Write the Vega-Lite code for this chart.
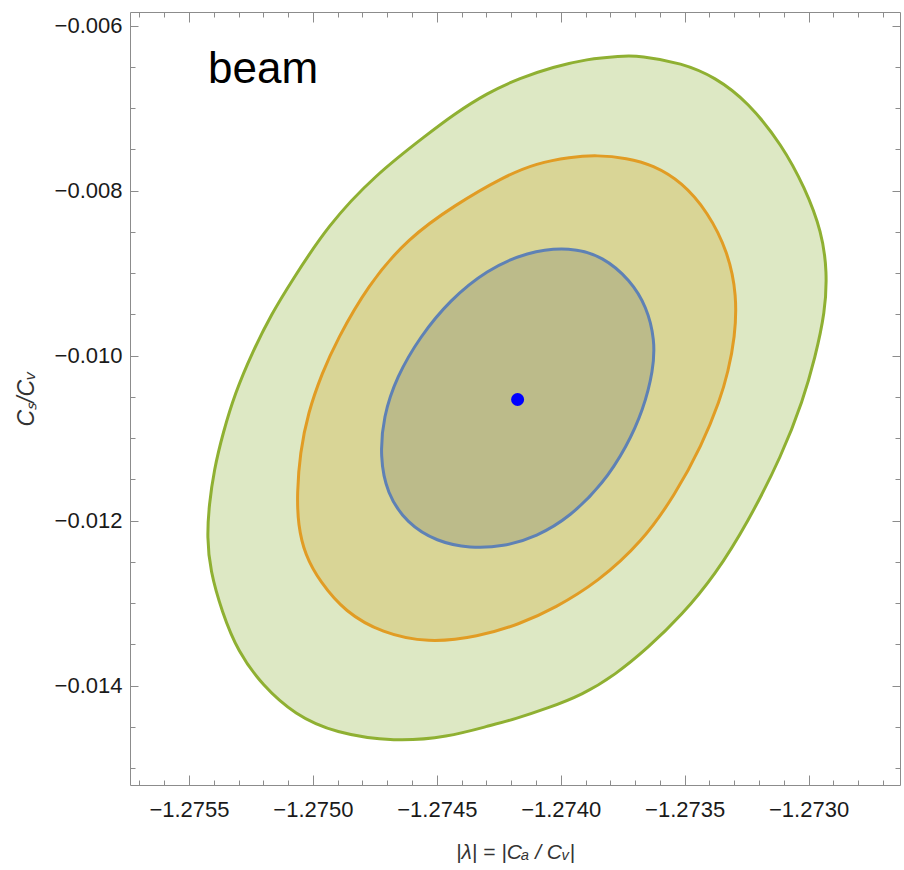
{
  "$schema": "https://vega.github.io/schema/vega-lite/v6.json",
  "width": 770,
  "height": 773,
  "autosize": {"type": "none"},
  "padding": {"left": 130, "top": 12, "right": 4, "bottom": 85},
  "background": "white",
  "config": {
    "view": {"stroke": "#8c8c8c", "strokeWidth": 1},
    "font": "Liberation Sans"
  },
  "datasets": {
    "contours": [
      {"level": "3σ", "i": 1, "x": -1.273680, "y": -0.006364},
      {"level": "3σ", "i": 2, "x": -1.273511, "y": -0.006455},
      {"level": "3σ", "i": 3, "x": -1.273377, "y": -0.006624},
      {"level": "3σ", "i": 4, "x": -1.273244, "y": -0.006927},
      {"level": "3σ", "i": 5, "x": -1.273107, "y": -0.007448},
      {"level": "3σ", "i": 6, "x": -1.273014, "y": -0.007970},
      {"level": "3σ", "i": 7, "x": -1.272946, "y": -0.008503},
      {"level": "3σ", "i": 8, "x": -1.272925, "y": -0.008988},
      {"level": "3σ", "i": 9, "x": -1.272933, "y": -0.009473},
      {"level": "3σ", "i": 10, "x": -1.272974, "y": -0.010030},
      {"level": "3σ", "i": 11, "x": -1.273022, "y": -0.010539},
      {"level": "3σ", "i": 12, "x": -1.273107, "y": -0.011206},
      {"level": "3σ", "i": 13, "x": -1.273244, "y": -0.012018},
      {"level": "3σ", "i": 14, "x": -1.273377, "y": -0.012661},
      {"level": "3σ", "i": 15, "x": -1.273511, "y": -0.013145},
      {"level": "3σ", "i": 16, "x": -1.273648, "y": -0.013545},
      {"level": "3σ", "i": 17, "x": -1.273781, "y": -0.013873},
      {"level": "3σ", "i": 18, "x": -1.273914, "y": -0.014115},
      {"level": "3σ", "i": 19, "x": -1.274051, "y": -0.014273},
      {"level": "3σ", "i": 20, "x": -1.274184, "y": -0.014406},
      {"level": "3σ", "i": 21, "x": -1.274293, "y": -0.014491},
      {"level": "3σ", "i": 22, "x": -1.274455, "y": -0.014624},
      {"level": "3σ", "i": 23, "x": -1.274669, "y": -0.014685},
      {"level": "3σ", "i": 24, "x": -1.274911, "y": -0.014576},
      {"level": "3σ", "i": 25, "x": -1.275072, "y": -0.014357},
      {"level": "3σ", "i": 26, "x": -1.275205, "y": -0.013994},
      {"level": "3σ", "i": 27, "x": -1.275302, "y": -0.013594},
      {"level": "3σ", "i": 28, "x": -1.275367, "y": -0.013109},
      {"level": "3σ", "i": 29, "x": -1.275415, "y": -0.012600},
      {"level": "3σ", "i": 30, "x": -1.275427, "y": -0.012200},
      {"level": "3σ", "i": 31, "x": -1.275419, "y": -0.011812},
      {"level": "3σ", "i": 32, "x": -1.275399, "y": -0.011388},
      {"level": "3σ", "i": 33, "x": -1.275363, "y": -0.010939},
      {"level": "3σ", "i": 34, "x": -1.275314, "y": -0.010455},
      {"level": "3σ", "i": 35, "x": -1.275246, "y": -0.009970},
      {"level": "3σ", "i": 36, "x": -1.275165, "y": -0.009485},
      {"level": "3σ", "i": 37, "x": -1.275088, "y": -0.009109},
      {"level": "3σ", "i": 38, "x": -1.274939, "y": -0.008418},
      {"level": "3σ", "i": 39, "x": -1.274749, "y": -0.007812},
      {"level": "3σ", "i": 40, "x": -1.274536, "y": -0.007315},
      {"level": "3σ", "i": 41, "x": -1.274435, "y": -0.007085},
      {"level": "3σ", "i": 42, "x": -1.274297, "y": -0.006818},
      {"level": "3σ", "i": 43, "x": -1.274164, "y": -0.006636},
      {"level": "3σ", "i": 44, "x": -1.274031, "y": -0.006503},
      {"level": "3σ", "i": 45, "x": -1.273894, "y": -0.006406},
      {"level": "3σ", "i": 46, "x": -1.273761, "y": -0.006370},
      {"level": "2σ", "i": 1, "x": -1.273854, "y": -0.007570},
      {"level": "2σ", "i": 2, "x": -1.273733, "y": -0.007606},
      {"level": "2σ", "i": 3, "x": -1.273628, "y": -0.007691},
      {"level": "2σ", "i": 4, "x": -1.273511, "y": -0.007897},
      {"level": "2σ", "i": 5, "x": -1.273406, "y": -0.008261},
      {"level": "2σ", "i": 6, "x": -1.273325, "y": -0.008745},
      {"level": "2σ", "i": 7, "x": -1.273289, "y": -0.009267},
      {"level": "2σ", "i": 8, "x": -1.273297, "y": -0.009788},
      {"level": "2σ", "i": 9, "x": -1.273325, "y": -0.010200},
      {"level": "2σ", "i": 10, "x": -1.273357, "y": -0.010539},
      {"level": "2σ", "i": 11, "x": -1.273430, "y": -0.011085},
      {"level": "2σ", "i": 12, "x": -1.273539, "y": -0.011691},
      {"level": "2σ", "i": 13, "x": -1.273672, "y": -0.012261},
      {"level": "2σ", "i": 14, "x": -1.273850, "y": -0.012745},
      {"level": "2σ", "i": 15, "x": -1.274023, "y": -0.013061},
      {"level": "2σ", "i": 16, "x": -1.274164, "y": -0.013254},
      {"level": "2σ", "i": 17, "x": -1.274334, "y": -0.013412},
      {"level": "2σ", "i": 18, "x": -1.274536, "y": -0.013485},
      {"level": "2σ", "i": 19, "x": -1.274721, "y": -0.013364},
      {"level": "2σ", "i": 20, "x": -1.274870, "y": -0.013109},
      {"level": "2σ", "i": 21, "x": -1.274971, "y": -0.012745},
      {"level": "2σ", "i": 22, "x": -1.275032, "y": -0.012418},
      {"level": "2σ", "i": 23, "x": -1.275060, "y": -0.012055},
      {"level": "2σ", "i": 24, "x": -1.275064, "y": -0.011667},
      {"level": "2σ", "i": 25, "x": -1.275052, "y": -0.011182},
      {"level": "2σ", "i": 26, "x": -1.275020, "y": -0.010697},
      {"level": "2σ", "i": 27, "x": -1.274963, "y": -0.010212},
      {"level": "2σ", "i": 28, "x": -1.274903, "y": -0.009812},
      {"level": "2σ", "i": 29, "x": -1.274778, "y": -0.009145},
      {"level": "2σ", "i": 30, "x": -1.274616, "y": -0.008576},
      {"level": "2σ", "i": 31, "x": -1.274427, "y": -0.008176},
      {"level": "2σ", "i": 32, "x": -1.274233, "y": -0.007836},
      {"level": "2σ", "i": 33, "x": -1.274096, "y": -0.007667},
      {"level": "2σ", "i": 34, "x": -1.273962, "y": -0.007594},
      {"level": "1σ", "i": 1, "x": -1.273962, "y": -0.008681},
      {"level": "1σ", "i": 2, "x": -1.273828, "y": -0.008802},
      {"level": "1σ", "i": 3, "x": -1.273720, "y": -0.009085},
      {"level": "1σ", "i": 4, "x": -1.273653, "y": -0.009408},
      {"level": "1σ", "i": 5, "x": -1.273620, "y": -0.009812},
      {"level": "1σ", "i": 6, "x": -1.273626, "y": -0.010176},
      {"level": "1σ", "i": 7, "x": -1.273667, "y": -0.010661},
      {"level": "1σ", "i": 8, "x": -1.273734, "y": -0.011105},
      {"level": "1σ", "i": 9, "x": -1.273828, "y": -0.011549},
      {"level": "1σ", "i": 10, "x": -1.273962, "y": -0.011954},
      {"level": "1σ", "i": 11, "x": -1.274097, "y": -0.012196},
      {"level": "1σ", "i": 12, "x": -1.274232, "y": -0.012318},
      {"level": "1σ", "i": 13, "x": -1.274366, "y": -0.012337},
      {"level": "1σ", "i": 14, "x": -1.274500, "y": -0.012257},
      {"level": "1σ", "i": 15, "x": -1.274621, "y": -0.012034},
      {"level": "1σ", "i": 16, "x": -1.274702, "y": -0.011670},
      {"level": "1σ", "i": 17, "x": -1.274729, "y": -0.011227},
      {"level": "1σ", "i": 18, "x": -1.274716, "y": -0.010742},
      {"level": "1σ", "i": 19, "x": -1.274662, "y": -0.010257},
      {"level": "1σ", "i": 20, "x": -1.274568, "y": -0.009772},
      {"level": "1σ", "i": 21, "x": -1.274447, "y": -0.009327},
      {"level": "1σ", "i": 22, "x": -1.274299, "y": -0.008964},
      {"level": "1σ", "i": 23, "x": -1.274137, "y": -0.008742}
    ],
    "center": [{"x": -1.274174, "y": -0.010533}],
    "labels": [{"text": "beam", "x": -1.275423, "y": -0.006697}]
  },
  "layer": [
    {
      "data": {"name": "contours"},
      "transform": [{"filter": "datum.level === '3σ'"}],
      "mark": {"type": "line", "interpolate": "basis-closed", "fill": "#dde8c4", "stroke": "#8fb032", "strokeWidth": 3},
      "encoding": {
        "order": {"field": "i", "type": "quantitative"},
        "x": {
          "field": "x", "type": "quantitative",
          "scale": {"domain": [-1.275738, -1.272631], "nice": false, "zero": false},
          "axis": {
            "orient": "bottom",
            "values": [-1.2757,-1.2756,-1.2755,-1.2754,-1.2753,-1.2752,-1.2751,-1.275,-1.2749,-1.2748,-1.2747,-1.2746,-1.2745,-1.2744,-1.2743,-1.2742,-1.2741,-1.274,-1.2739,-1.2738,-1.2737,-1.2736,-1.2735,-1.2734,-1.2733,-1.2732,-1.2731,-1.273,-1.2729,-1.2728,-1.2727],
            "format": ".4f",
            "labelExpr": "round(datum.value*10000) % 5 == 0 ? datum.label : ''",
            "tickSize": {"condition": {"test": "round(datum.value*10000) % 5 == 0", "value": -10}, "value": -5},
            "tickColor": "#8c8c8c",
            "domain": false,
            "grid": false,
            "labelOverlap": false,
            "labelBound": false,
            "labelFlush": false,
            "labelPadding": 24,
            "labelFont": "Liberation Sans",
            "labelFontSize": 22,
            "labelColor": "#1a1a1a",
            "title": "|λ| = |Cₐ / Cᵥ|",
            "titleFont": "Liberation Sans",
            "titleFontStyle": "italic",
            "titleFontWeight": "normal",
            "titleFontSize": 21,
            "titleColor": "#333333",
            "titlePadding": 16
          }
        },
        "y": {
          "field": "y", "type": "quantitative",
          "scale": {"domain": [-0.015206, -0.005836], "nice": false, "zero": false},
          "axis": {
            "orient": "left",
            "values": [-0.015,-0.0145,-0.014,-0.0135,-0.013,-0.0125,-0.012,-0.0115,-0.011,-0.0105,-0.01,-0.0095,-0.009,-0.0085,-0.008,-0.0075,-0.007,-0.0065,-0.006],
            "format": ".3f",
            "labelExpr": "round(datum.value*10000) % 20 == 0 ? datum.label : ''",
            "tickSize": {"condition": {"test": "round(datum.value*10000) % 20 == 0", "value": -8}, "value": -5},
            "tickColor": "#8c8c8c",
            "domain": false,
            "grid": false,
            "labelOverlap": false,
            "labelBound": false,
            "labelFlush": false,
            "labelPadding": 16,
            "labelFont": "Liberation Sans",
            "labelFontSize": 22,
            "labelColor": "#1a1a1a",
            "title": "Cₛ/Cᵥ",
            "titleFont": "Liberation Sans",
            "titleFontStyle": "italic",
            "titleFontWeight": "normal",
            "titleFontSize": 23,
            "titleColor": "#333333",
            "titlePadding": 16
          }
        }
      }
    },
    {
      "data": {"name": "contours"},
      "transform": [{"filter": "datum.level === '2σ'"}],
      "mark": {"type": "line", "interpolate": "basis-closed", "fill": "#d9d596", "stroke": "#e19c24", "strokeWidth": 3},
      "encoding": {
        "order": {"field": "i", "type": "quantitative"},
        "x": {"field": "x", "type": "quantitative", "scale": {"domain": [-1.275738, -1.272631], "nice": false, "zero": false}, "axis": null},
        "y": {"field": "y", "type": "quantitative", "scale": {"domain": [-0.015206, -0.005836], "nice": false, "zero": false}, "axis": null}
      }
    },
    {
      "data": {"name": "contours"},
      "transform": [{"filter": "datum.level === '1σ'"}],
      "mark": {"type": "line", "interpolate": "basis-closed", "fill": "#bcbb8a", "stroke": "#5e81b5", "strokeWidth": 3},
      "encoding": {
        "order": {"field": "i", "type": "quantitative"},
        "x": {"field": "x", "type": "quantitative", "scale": {"domain": [-1.275738, -1.272631], "nice": false, "zero": false}, "axis": null},
        "y": {"field": "y", "type": "quantitative", "scale": {"domain": [-0.015206, -0.005836], "nice": false, "zero": false}, "axis": null}
      }
    },
    {
      "data": {"name": "center"},
      "mark": {"type": "circle", "color": "#0000ff", "opacity": 1, "size": 170},
      "encoding": {
        "x": {
          "field": "x", "type": "quantitative",
          "scale": {"domain": [-1.275738, -1.272631], "nice": false, "zero": false},
          "axis": {
            "orient": "top",
            "values": [-1.2757,-1.2756,-1.2755,-1.2754,-1.2753,-1.2752,-1.2751,-1.275,-1.2749,-1.2748,-1.2747,-1.2746,-1.2745,-1.2744,-1.2743,-1.2742,-1.2741,-1.274,-1.2739,-1.2738,-1.2737,-1.2736,-1.2735,-1.2734,-1.2733,-1.2732,-1.2731,-1.273,-1.2729,-1.2728,-1.2727],
            "labels": false,
            "tickSize": {"condition": {"test": "round(datum.value*10000) % 5 == 0", "value": -10}, "value": -5},
            "tickColor": "#8c8c8c",
            "domain": false,
            "grid": false,
            "title": null
          }
        },
        "y": {
          "field": "y", "type": "quantitative",
          "scale": {"domain": [-0.015206, -0.005836], "nice": false, "zero": false},
          "axis": {
            "orient": "right",
            "values": [-0.015,-0.0145,-0.014,-0.0135,-0.013,-0.0125,-0.012,-0.0115,-0.011,-0.0105,-0.01,-0.0095,-0.009,-0.0085,-0.008,-0.0075,-0.007,-0.0065,-0.006],
            "labels": false,
            "tickSize": {"condition": {"test": "round(datum.value*10000) % 20 == 0", "value": -8}, "value": -5},
            "tickColor": "#8c8c8c",
            "domain": false,
            "grid": false,
            "title": null
          }
        }
      }
    },
    {
      "data": {"name": "labels"},
      "mark": {"type": "text", "align": "left", "baseline": "alphabetic", "fontSize": 44, "font": "Liberation Sans", "color": "#000000"},
      "encoding": {
        "text": {"field": "text"},
        "x": {"field": "x", "type": "quantitative", "scale": {"domain": [-1.275738, -1.272631], "nice": false, "zero": false}, "axis": null},
        "y": {"field": "y", "type": "quantitative", "scale": {"domain": [-0.015206, -0.005836], "nice": false, "zero": false}, "axis": null}
      }
    }
  ],
  "resolve": {"axis": {"x": "independent", "y": "independent"}}
}
